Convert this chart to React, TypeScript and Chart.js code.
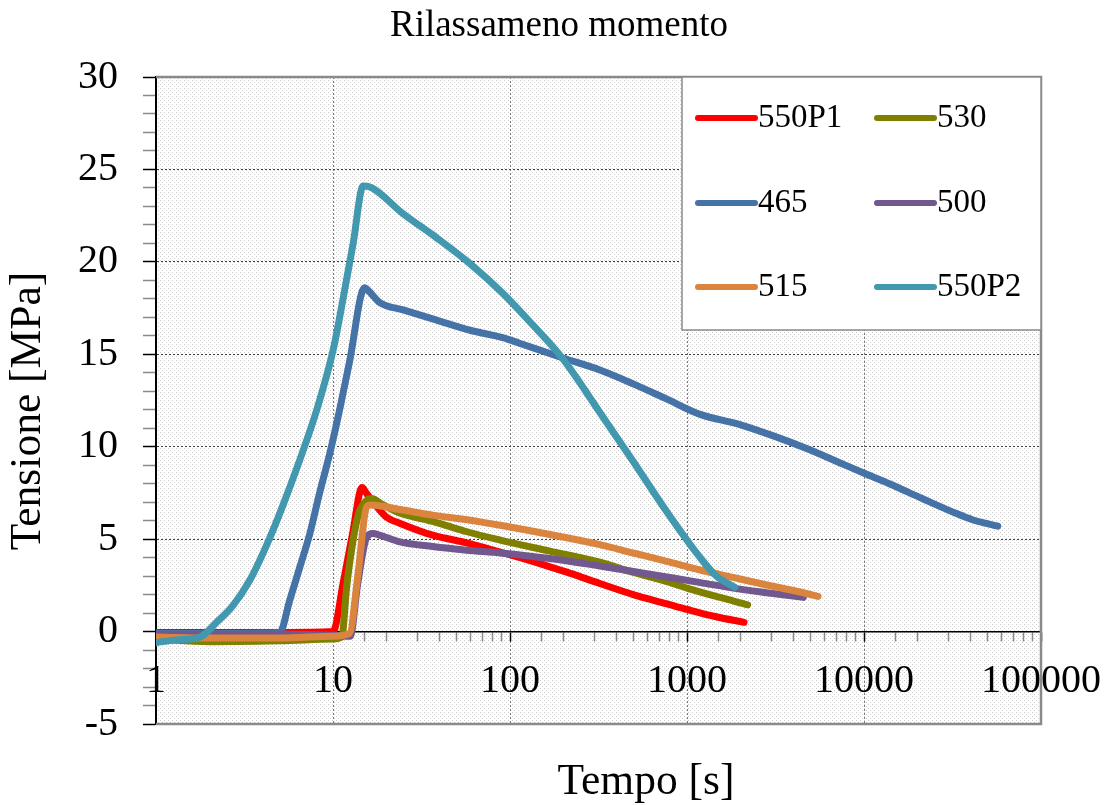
import { useEffect, useRef } from 'react';
import { Chart, registerables } from 'chart.js';

Chart.register(...registerables);

const FONT = "'Liberation Serif', 'Times New Roman', serif";

// Series names and colours (legend order, row by row)
const seriesNames = ['550P1', '530', '465', '500', '515', '550P2'];
const seriesColors = ['#FF0000', '#808000', '#4572A7', '#71588F', '#DB843D', '#4198AF'];

// Time [s] and stress [MPa] for each test
const t550P1 = [1, 2, 5, 10, 11.4, 12.9, 14.6, 15.4, 17.7, 20, 24, 37, 57, 88, 134, 168, 220, 322, 497, 770, 1000, 1460, 2100];
const v550P1 = [-0.05, -0.05, -0.05, 0.0, 2.6, 5.3, 7.8, 7.5, 6.75, 6.2, 5.85, 5.2, 4.8, 4.3, 3.8, 3.5, 3.15, 2.6, 2.0, 1.5, 1.2, 0.8, 0.5];

const t530 = [1, 2, 5, 10, 11.2, 12, 13.8, 15.5, 16.5, 19.2, 24, 37, 57, 88, 168, 322, 497, 770, 1000, 1460, 2200];
const v530 = [-0.4, -0.55, -0.5, -0.4, -0.3, 2.6, 6.2, 7.1, 7.2, 6.85, 6.4, 5.95, 5.4, 4.95, 4.35, 3.75, 3.2, 2.7, 2.35, 1.9, 1.45];

const t465 = [1, 3, 5, 5.7, 6.5, 7.4, 8.4, 9.6, 10.9, 12.4, 15.1, 16, 18.4, 24.9, 38.5, 59.5, 91, 113, 199, 322, 497, 760, 1187, 1990, 3050, 4740, 7230, 10100, 13900, 21300, 33000, 41000, 57000];
const v465 = [-0.1, -0.1, -0.05, 1.7, 3.5, 5.3, 7.5, 9.65, 12.0, 14.6, 18.6, 18.4, 17.8, 17.4, 16.85, 16.3, 15.9, 15.6, 14.8, 14.15, 13.4, 12.6, 11.75, 11.2, 10.6, 9.9, 9.15, 8.55, 8.0, 7.2, 6.4, 6.05, 5.7];

const t500 = [1, 5, 10, 12.5, 13.8, 15.5, 16.8, 18.5, 23.9, 36.6, 57, 88, 168, 322, 497, 770, 1190, 1820, 2820, 4540];
const v500 = [-0.15, -0.15, -0.2, -0.25, 2.6, 5.1, 5.3, 5.2, 4.85, 4.6, 4.4, 4.25, 3.95, 3.55, 3.25, 2.95, 2.65, 2.35, 2.1, 1.85];

const t515 = [1, 2, 5, 10, 12.4, 13.8, 15.5, 16.3, 23.9, 36.6, 57, 88, 168, 322, 497, 770, 1190, 1820, 2820, 4360, 5500];
const v515 = [-0.3, -0.35, -0.35, -0.25, -0.1, 3.0, 6.75, 6.85, 6.6, 6.3, 6.05, 5.75, 5.25, 4.7, 4.25, 3.8, 3.33, 2.93, 2.52, 2.14, 1.9];

const t550P2 = [1, 1.3, 1.77, 2.2, 2.72, 3.4, 4.23, 5.2, 6.5, 8.1, 10.0, 11.5, 13, 14.8, 16.6, 24.9, 38.5, 59.5, 91, 134, 199, 322, 497, 760, 1187, 1466, 1860];
const v550P2 = [-0.6, -0.45, -0.3, 0.5, 1.4, 2.8, 4.7, 6.8, 9.3, 12.0, 15.2, 18.2, 21.0, 24.1, 24.0, 22.6, 21.3, 19.9, 18.3, 16.6, 14.75, 11.85, 9.2, 6.55, 4.0, 3.0, 2.4];

const seriesTimes = [t550P1, t530, t465, t500, t515, t550P2];
const seriesValues = [v550P1, v530, v465, v500, v515, v550P2];

// Axis settings
const xMin = 1;
const xMax = 100000;
const yMin = -5;
const yMax = 30;
const yMajorStep = 5;

const titleText = 'Rilassameno momento';
const xTitle = 'Tempo [s]';
const yTitle = 'Tensione [MPa]';

const isDecade = (v: number) => Math.abs(Math.log10(v) - Math.round(Math.log10(v))) < 1e-9;

// Dotted fill behind the plot
const plotBackground = {
  id: 'plotBackground',
  beforeDraw(chart: any) {
    const { ctx, chartArea: a } = chart;
    const tile = document.createElement('canvas');
    tile.width = 4;
    tile.height = 4;
    const t = tile.getContext('2d')!;
    t.fillStyle = '#ffffff';
    t.fillRect(0, 0, 4, 4);
    t.fillStyle = '#cbcbcb';
    t.fillRect(0, 0, 1, 1);
    t.fillRect(2, 2, 1, 1);
    ctx.save();
    ctx.fillStyle = ctx.createPattern(tile, 'repeat');
    ctx.fillRect(a.left, a.top, a.right - a.left, a.bottom - a.top);
    ctx.restore();
  },
};

// Plot frame, boxed legend, chart title and axis titles
const overlay = {
  id: 'overlay',
  afterDraw(chart: any) {
    const { ctx, chartArea: a } = chart;
    ctx.save();

    // grey frame on top, right and bottom
    ctx.strokeStyle = '#8a8a8a';
    ctx.lineWidth = 2.5;
    ctx.beginPath();
    ctx.moveTo(a.left, a.top);
    ctx.lineTo(a.right, a.top);
    ctx.lineTo(a.right, a.bottom);
    ctx.lineTo(a.left, a.bottom);
    ctx.stroke();

    // legend box
    const boxW = 359;
    const boxH = 253;
    const bx = a.right - boxW;
    const by = a.top;
    ctx.fillStyle = '#ffffff';
    ctx.fillRect(bx, by, boxW, boxH);
    ctx.strokeStyle = '#8a8a8a';
    ctx.lineWidth = 1.5;
    ctx.strokeRect(bx, by, boxW, boxH);

    const colX = [bx + 16, bx + 195];
    const rowY = [by + 41, by + 126, by + 210];
    ctx.font = `33px ${FONT}`;
    ctx.textBaseline = 'middle';
    ctx.textAlign = 'left';
    chart.data.datasets.forEach((ds: any, i: number) => {
      const cx = colX[i % 2];
      const cy = rowY[Math.floor(i / 2)];
      ctx.strokeStyle = ds.borderColor;
      ctx.lineWidth = 6;
      ctx.lineCap = 'round';
      ctx.beginPath();
      ctx.moveTo(cx, cy);
      ctx.lineTo(cx + 57, cy);
      ctx.stroke();
      ctx.fillStyle = '#000';
      ctx.fillText(ds.label, cx + 60, cy);
    });

    // chart title
    ctx.fillStyle = '#000';
    ctx.textAlign = 'center';
    ctx.textBaseline = 'middle';
    ctx.font = `37px ${FONT}`;
    ctx.fillText(titleText, 559, 26);

    // axis titles
    ctx.font = `43.5px ${FONT}`;
    ctx.fillText(xTitle, 646, 783);
    ctx.translate(29, 411);
    ctx.rotate(-Math.PI / 2);
    ctx.fillText(yTitle, 0, 0);

    ctx.restore();
  },
};

export default function App() {
  const canvasRef = useRef<HTMLCanvasElement | null>(null);

  useEffect(() => {
    const canvas = canvasRef.current;
    if (!canvas) return;

    const datasets = seriesNames.map((name, i) => ({
      label: name,
      data: seriesTimes[i].map((x, k) => ({ x, y: seriesValues[i][k] })),
      borderColor: seriesColors[i],
      backgroundColor: seriesColors[i],
      borderWidth: 7,
      pointRadius: 0,
      cubicInterpolationMode: 'monotone' as const,
      borderCapStyle: 'round' as const,
      borderJoinStyle: 'round' as const,
      fill: false,
      order: seriesNames.length - i,
    }));

    const chart = new Chart(canvas, {
      type: 'line',
      data: { datasets },
      plugins: [plotBackground, overlay],
      options: {
        responsive: false,
        animation: false,
        devicePixelRatio: 1,
        layout: { padding: { left: 0, right: 73, top: 77, bottom: 81 } },
        plugins: {
          legend: { display: false },
          tooltip: { enabled: false },
          title: { display: false },
        },
        scales: {
          x: {
            type: 'logarithmic',
            min: xMin,
            max: xMax,
            position: { y: 0 } as any,
            afterFit(scale: any) {
              scale.paddingLeft = 0;
              scale.paddingRight = 0;
            },
            grid: {
              color: (c: any) => (c.tick && isDecade(c.tick.value) ? '#7a7a7a' : 'rgba(0,0,0,0)'),
              lineWidth: 1,
              tickColor: (c: any) => (c.tick && isDecade(c.tick.value) ? '#000' : '#8a8a8a'),
              tickLength: 9,
              tickWidth: 1.5,
            },
            border: { display: true, color: '#000', width: 1.5, dash: [2, 2] },
            ticks: {
              autoSkip: false,
              maxRotation: 0,
              minRotation: 0,
              padding: 17,
              color: '#000',
              font: { family: FONT, size: 40 },
              callback: (v: any) => (isDecade(Number(v)) ? String(Number(v)) : ''),
            },
          },
          y: {
            type: 'linear',
            min: yMin,
            max: yMax,
            position: 'left',
            afterFit(scale: any) {
              scale.width = 156;
              scale.paddingTop = 0;
              scale.paddingBottom = 0;
            },
            grid: {
              color: (c: any) => (c.tick && c.tick.value % yMajorStep === 0 ? '#3a3a3a' : 'rgba(0,0,0,0)'),
              lineWidth: 1,
              tickColor: (c: any) => (c.tick && c.tick.value % yMajorStep === 0 ? '#000' : '#8a8a8a'),
              tickLength: 13,
              tickWidth: 1.5,
            },
            border: { display: true, color: '#000', width: 2, dash: [2, 2] },
            ticks: {
              stepSize: 1,
              autoSkip: false,
              padding: 25,
              color: '#000',
              font: { family: FONT, size: 40 },
              callback: (v: any) => (Number(v) % yMajorStep === 0 ? String(v) : ''),
            },
          },
        },
      } as any,
    });

    return () => chart.destroy();
  }, []);

  return (
    <div style={{ position: 'absolute', left: 0, top: 0, width: 1114, height: 805 }}>
      <canvas ref={canvasRef} width={1114} height={805} style={{ display: 'block' }} />
    </div>
  );
}
